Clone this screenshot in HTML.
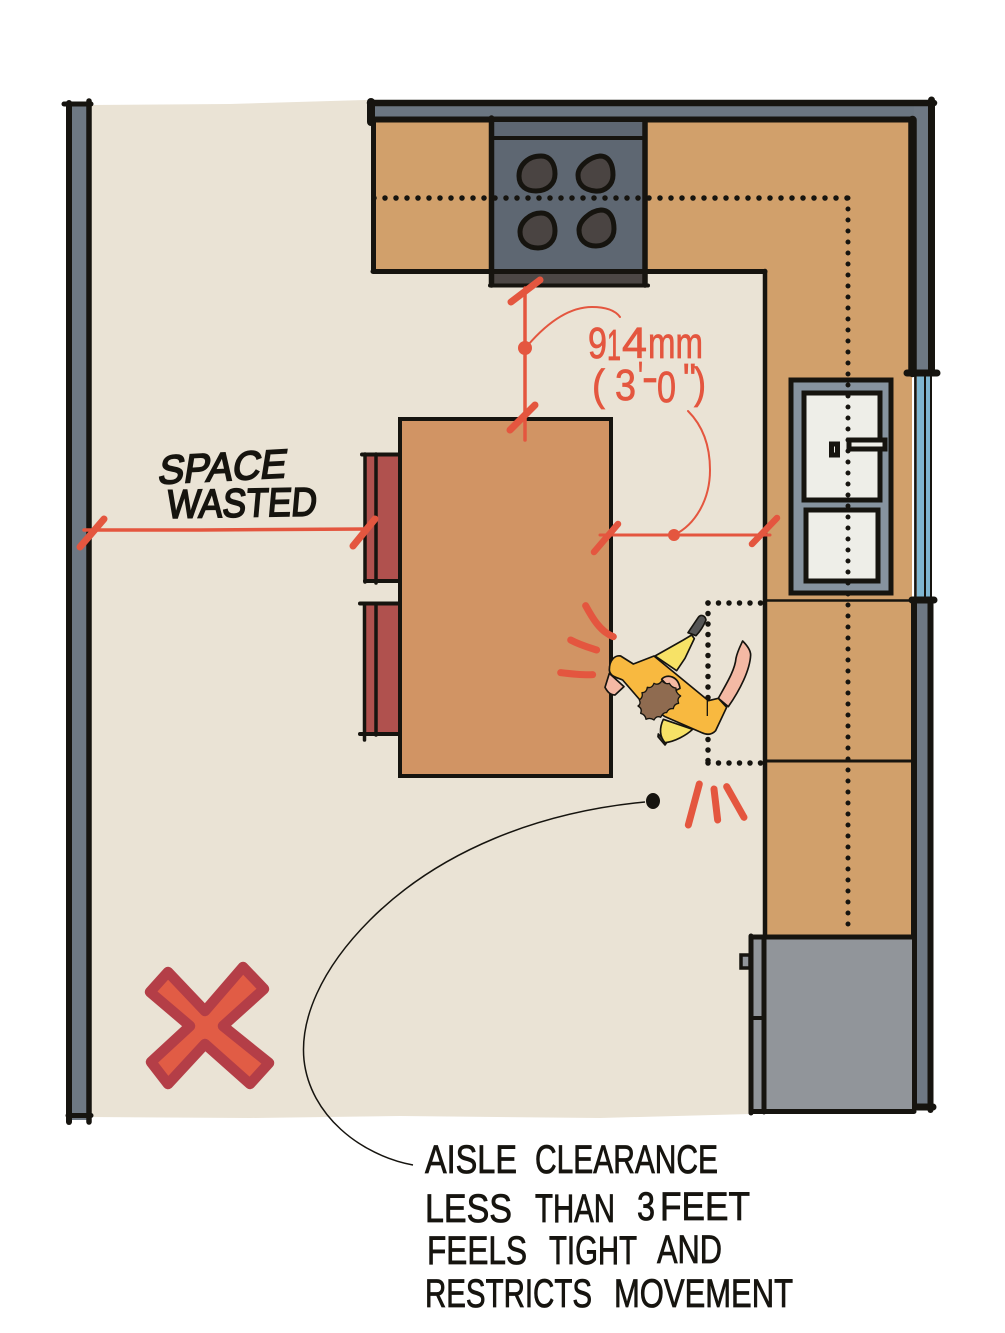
<!DOCTYPE html>
<html><head><meta charset="utf-8"><style>html,body{margin:0;padding:0;background:#fff}svg{display:block}text{font-family:"Liberation Sans",sans-serif}</style></head>
<body>
<svg xmlns="http://www.w3.org/2000/svg" width="1005" height="1333" viewBox="0 0 1005 1333">
<rect width="1005" height="1333" fill="#fff"/>
<!-- floor -->
<path d="M90 105 L230 104 L365 100 L770 120 L770 1112 L750 1114 L600 1118 L400 1116 L250 1118 L90 1117Z" fill="#eae3d5"/>
<!-- left wall -->
<rect x="70" y="102" width="18" height="1018" fill="#6e7883"/>
<g stroke="#16140f" fill="none" stroke-linecap="round">
<path d="M69 103V1122" stroke-width="6"/><path d="M89 101V1122" stroke-width="5.500"/>
<path d="M64 104H91" stroke-width="5"/><path d="M68 1115.500H91" stroke-width="5"/>
</g>
<!-- counter -->
<path d="M374 122H912V936H766V271H374Z" fill="#d1a06b"/>
<!-- top + right wall -->
<rect x="370" y="103" width="565" height="15" fill="#6b7681"/>
<rect x="914" y="103" width="16" height="1006" fill="#6e7883"/>
<rect x="916" y="374" width="16" height="226" fill="#fff"/>
<rect x="917" y="376" width="7" height="224" fill="#7fb6d0"/>
<rect x="926" y="376" width="4" height="224" fill="#7fb6d0"/>
<g stroke="#16140f" fill="none" stroke-linecap="round">
<path d="M370 103H934" stroke-width="6.500"/>
<path d="M371 119.500H912" stroke-width="6"/>
<path d="M371 102V122" stroke-width="8"/>
<path d="M373.500 120V271" stroke-width="5"/>
<path d="M373 271.500H490" stroke-width="5"/>
<path d="M646 271.500H765" stroke-width="5"/>
<path d="M765 271V936" stroke-width="4.500"/>
<path d="M912.500 120V373" stroke-width="8.500"/>
<path d="M931.500 100V373" stroke-width="7"/>
<path d="M907 373H937" stroke-width="7"/>
<path d="M915.500 373V600" stroke-width="2.500"/>
<path d="M925 373V600" stroke-width="2"/>
<path d="M931 373V600" stroke-width="2"/>
<path d="M912 600H934" stroke-width="7"/>
<path d="M914 600V1108" stroke-width="6"/>
<path d="M930.500 600V1110" stroke-width="6"/>
<path d="M912 1107H933" stroke-width="7"/>
<path d="M765 600.500H912" stroke-width="2.500"/>
<path d="M765 761H912" stroke-width="3"/>
</g>
<path d="M912 1030L908 1110H914Z" fill="#16140f"/>
<!-- stove -->
<rect x="491" y="122" width="155" height="150" fill="#5e6772"/>
<rect x="491" y="272" width="155" height="13" fill="#4c4745"/>
<g stroke="#16140f" fill="none" stroke-linecap="round">
<path d="M491.500 118V285" stroke-width="5.500"/><path d="M645 120V285" stroke-width="5.500"/>
<path d="M491 138H645" stroke-width="4"/>
<path d="M490 271.500H647" stroke-width="5"/>
<path d="M490 285.500H648" stroke-width="4"/>
</g>
<g fill="#4a4442" stroke="#16140f" stroke-width="5">
<path d="M519 176C519 165 528 156 541 156C551 156 555 165 555 174C555 184 547 191 536 191C526 191 519 186 519 176Z"/>
<path d="M578 175C578 166 590 157 600 156C610 156 613 166 613 175C613 185 605 192 595 191C585 190 578 185 578 175Z"/>
<path d="M520 232C520 222 530 213 541 213C551 213 555 222 555 231C555 241 548 248 538 248C528 248 520 242 520 232Z"/>
<path d="M579 230C579 221 590 211 601 210C611 210 614 220 614 229C614 239 606 246 596 246C586 246 579 240 579 230Z"/>
</g>
<!-- sink -->
<rect x="791" y="380" width="100" height="213" fill="#86939f" stroke="#16140f" stroke-width="5"/>
<rect x="804" y="393" width="76" height="107" fill="#eeeee8" stroke="#16140f" stroke-width="5"/>
<rect x="806" y="510" width="72" height="71" fill="#eeeee8" stroke="#16140f" stroke-width="5"/>
<!-- dotted centre lines -->
<g fill="none" stroke="#16140f" stroke-width="5.500" stroke-linecap="round" stroke-dasharray="0 11">
<path d="M374 198H848"/>
<path d="M848 198V932" stroke-width="5"/>
</g>
<rect x="849" y="440" width="36" height="9" fill="#eeeee8" stroke="#16140f" stroke-width="5"/>
<rect x="831.500" y="444" width="6" height="11" fill="#eeeee8" stroke="#16140f" stroke-width="5"/>
<!-- fridge -->
<rect x="751" y="937" width="161" height="175" fill="#91959a"/>
<rect x="741" y="955" width="9" height="13" fill="#91959a" stroke="#16140f" stroke-width="3.500"/>
<g stroke="#16140f" fill="none" stroke-linecap="round">
<path d="M751 936V1113" stroke-width="5"/>
<path d="M764 937V1112" stroke-width="5"/>
<path d="M751 937H914" stroke-width="5"/>
<path d="M751 1111.500H914" stroke-width="5"/>
<path d="M751 1018H764" stroke-width="4"/>
</g>
<!-- stools -->
<rect x="364" y="454" width="36" height="127" fill="#b0514e"/>
<rect x="364" y="604" width="36" height="130" fill="#b0514e"/>
<g stroke="#16140f" fill="none" stroke-linecap="round">
<path d="M362 454.500H401" stroke-width="4"/><path d="M365 454V582" stroke-width="3.500"/><path d="M376 454V583" stroke-width="3.500"/><path d="M365 581H404" stroke-width="4"/>
<path d="M360 603.500H401" stroke-width="4"/><path d="M364.500 604V740" stroke-width="3.500"/><path d="M376 604V735" stroke-width="3.500"/><path d="M360 734H403" stroke-width="4"/>
</g>
<!-- island -->
<rect x="400" y="419" width="211" height="357" fill="#d19464" stroke="#16140f" stroke-width="4"/>
<!-- dotted foot box -->
<g fill="none" stroke="#16140f" stroke-width="5.500" stroke-linecap="round" stroke-dasharray="0 10.500">
<path d="M708 603H763"/><path d="M708 603V763"/><path d="M708 763H763"/>
</g>
<!-- person -->
<g transform="translate(550 590) scale(.3333)" stroke="#16140f" stroke-width="5" stroke-linejoin="round">
<path d="M414 128L445 82C452 72 466 76 468 90C460 110 450 125 438 137Z" fill="#555"/>
<path d="M315 198L400 150L425 135L433 146L405 205L380 242Z" fill="#f7e266"/>
<path d="M325 432L350 458L345 465L324 440Z" fill="#555"/>
<path d="M340 388C330 410 325 435 345 458C375 455 410 435 428 418Z" fill="#f7e266"/>
<path d="M178 250L165 292C172 305 180 315 195 315L222 290Z" fill="#f4b9a4"/>
<path d="M505 325C530 280 555 240 558 205C562 185 570 170 578 153C590 165 602 180 602 195C600 240 570 300 535 350Z" fill="#f4b9a4"/>
<path d="M178 240C178 210 195 195 212 198L250 222L312 198L475 332L505 325L530 352L497 422C485 435 470 435 455 428L345 380L270 330L218 270C200 262 180 260 178 240Z" fill="#f8b940"/>
<path d="M335 268C350 250 385 258 390 295L370 305Z" fill="#f4b9a4"/>
<path d="M472 322V378" fill="none" stroke-width="4"/>
<path d="M268 330Q280 322 276 308Q290 308 292 292Q306 296 312 280Q326 288 336 272Q346 284 358 280Q366 294 378 294Q376 308 392 318Q380 326 386 340Q372 342 370 356Q356 354 350 368Q340 366 332 382Q320 376 312 390Q300 382 288 388Q286 374 272 370Q278 356 264 348Q274 342 268 330Z" fill="#8f6b50" stroke-width="4"/>
</g>
<!-- impact marks -->
<g transform="translate(550 590) scale(.3333)" stroke="#e4563f" fill="none" stroke-width="21" stroke-linecap="round">
<path d="M107 47C125 80 150 125 190 140"/><path d="M62 150C90 165 115 172 140 180"/><path d="M32 248C65 252 100 256 128 254"/>
<path d="M448 582L415 705"/><path d="M492 597L503 690"/><path d="M530 590L582 682"/>
</g>
<!-- dimensions -->
<g stroke="#e4563f" fill="none" stroke-linecap="round">
<path d="M84 530L200 530L368 529" stroke-width="3.500"/>
<path d="M80 547L104 519" stroke-width="7"/><path d="M353 546L375 519" stroke-width="7"/>
<path d="M600 535H770" stroke-width="3"/>
<path d="M594 552L618 524" stroke-width="6.500"/><path d="M752 544L777 518" stroke-width="6.500"/>
<path d="M525 288V440" stroke-width="3.500"/>
<path d="M511 302L540 280" stroke-width="7"/><path d="M510 430L535 405" stroke-width="7"/>
<path d="M528 345C548 322 570 307 592 307C605 307 615 310 620 317" stroke-width="2"/>
<path d="M688 411C702 425 710 445 710 470C710 500 695 525 674 535" stroke-width="2"/>
</g>
<circle cx="525" cy="348" r="7" fill="#e4563f"/><circle cx="674" cy="535" r="6" fill="#e4563f"/>
<!-- X mark -->
<path d="M168 972L150 992L190 1026L151 1062L168 1084L205 1044L250 1084L269 1063L223 1026L264 989L243 967L205 1011Z" fill="#e15c45" stroke="#b43e47" stroke-width="10.500" stroke-linejoin="round"/>
<!-- leader -->
<path d="M645 802C540 812 440 850 370 920C320 970 300 1020 304 1060C310 1115 360 1155 413 1165" fill="none" stroke="#16140f" stroke-width="1.500"/>
<ellipse cx="653" cy="801" rx="7" ry="8" fill="#16140f"/>
<!-- labels -->
<g fill="#e4563f" stroke="#e4563f" stroke-width=".8" font-size="44">
<text x="588" y="358" textLength="19" lengthAdjust="spacingAndGlyphs">9</text>
<text x="607" y="360" textLength="14" lengthAdjust="spacingAndGlyphs">1</text>
<text x="622" y="358" textLength="25" lengthAdjust="spacingAndGlyphs">4</text>
<text x="648" y="358" textLength="55" lengthAdjust="spacingAndGlyphs">mm</text>
<text x="592" y="400" textLength="13" lengthAdjust="spacingAndGlyphs">(</text>
<text x="615" y="400" textLength="21" lengthAdjust="spacingAndGlyphs">3</text>
<text x="638" y="392" textLength="5" lengthAdjust="spacingAndGlyphs">'</text>
<text x="642" y="392" textLength="16" lengthAdjust="spacingAndGlyphs">-</text>
<text x="657" y="402" textLength="19" lengthAdjust="spacingAndGlyphs">0</text>
<text x="683" y="394" textLength="13" lengthAdjust="spacingAndGlyphs">"</text>
<text x="694" y="398" textLength="12" lengthAdjust="spacingAndGlyphs">)</text>
</g>
<g fill="#16140f" stroke="#16140f" stroke-width="1.800">
<text x="0" y="0" font-size="40" textLength="128" lengthAdjust="spacingAndGlyphs" transform="translate(157 484) rotate(-3) skewX(-12)">SPACE</text>
<text x="0" y="0" font-size="40" textLength="150" lengthAdjust="spacingAndGlyphs" transform="translate(166 518) rotate(-1) skewX(-6)">WASTED</text>
</g>
<g fill="#16140f" stroke="#16140f" stroke-width=".8" font-size="40">
<text x="425" y="1173" textLength="92" lengthAdjust="spacingAndGlyphs">AISLE</text>
<text x="535" y="1173" textLength="183" lengthAdjust="spacingAndGlyphs">CLEARANCE</text>
<text x="425" y="1222" textLength="87" lengthAdjust="spacingAndGlyphs">LESS</text>
<text x="535" y="1222" textLength="80" lengthAdjust="spacingAndGlyphs">THAN</text>
<text x="637" y="1220" textLength="18" lengthAdjust="spacingAndGlyphs">3</text>
<text x="660" y="1220" textLength="90" lengthAdjust="spacingAndGlyphs">FEET</text>
<text x="427" y="1264" textLength="100" lengthAdjust="spacingAndGlyphs">FEELS</text>
<text x="549" y="1264" textLength="88" lengthAdjust="spacingAndGlyphs">TIGHT</text>
<text x="657" y="1263" textLength="65" lengthAdjust="spacingAndGlyphs">AND</text>
<text x="425" y="1307" textLength="167" lengthAdjust="spacingAndGlyphs">RESTRICTS</text>
<text x="614" y="1307" textLength="179" lengthAdjust="spacingAndGlyphs">MOVEMENT</text>
</g>
</svg>
</body></html>
